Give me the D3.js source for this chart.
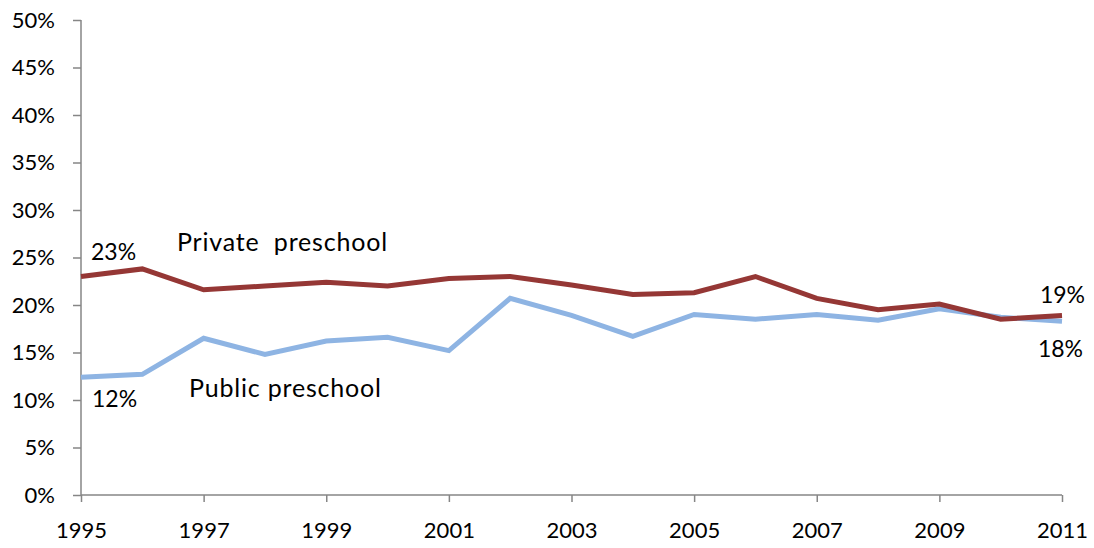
<!DOCTYPE html>
<html>
<head>
<meta charset="utf-8">
<script src="https://cdn.jsdelivr.net/npm/d3@7"></script>
<style>
  body { margin: 0; background: #fff; }
  text { font-family: Lato, "Open Sans", sans-serif; fill: #000; }
</style>
</head>
<body>
<script>
var years = d3.range(1995, 2012)
var privateVals = [23.0, 23.8, 21.6, 22.0, 22.4, 22.0, 22.8, 23.0, 22.1, 21.1, 21.3, 23.0, 20.7, 19.5, 20.1, 18.5, 18.9]
var publicVals = [12.4, 12.7, 16.5, 14.8, 16.2, 16.6, 15.2, 20.7, 18.9, 16.7, 19.0, 18.5, 19.0, 18.4, 19.6, 18.7, 18.3]
var yTicks = [0, 5, 10, 15, 20, 25, 30, 35, 40, 45, 50]
var xTicks = [1995, 1997, 1999, 2001, 2003, 2005, 2007, 2009, 2011]

var svg = d3.select("body").append("svg")
    .attr("width", 1094)
    .attr("height", 548)

var x = d3.scaleLinear().domain([1995, 2011]).range([81, 1062])
var y = d3.scaleLinear().domain([0, 50]).range([495, 20])

// axes
var yAxis = svg.append("g")
    .attr("transform", "translate(81,0)")
    .call(d3.axisLeft(y).tickValues(yTicks).tickSize(8).tickPadding(18).tickFormat(function(d) { return d + "%" }))
var xAxis = svg.append("g")
    .attr("transform", "translate(0,495)")
    .call(d3.axisBottom(x).tickValues(xTicks).tickSize(7).tickPadding(20).tickFormat(d3.format("d")))

svg.selectAll(".domain, .tick line").attr("stroke", "#868686").attr("stroke-width", 1.5)
svg.selectAll(".tick text").style("font-size", "22px").style("font-family", "Lato, 'Open Sans', sans-serif")
yAxis.selectAll(".domain").attr("d", "M0,495V20")
xAxis.selectAll(".domain").attr("d", "M81,0H1062")

var line = d3.line()
    .x(function(d, i) { return x(years[i]) })
    .y(function(d) { return y(d) })

svg.append("path")
    .datum(publicVals)
    .attr("fill", "none")
    .attr("stroke", "#8EB4E3")
    .attr("stroke-width", 5)
    .attr("d", line)

svg.append("path")
    .datum(privateVals)
    .attr("fill", "none")
    .attr("stroke", "#953735")
    .attr("stroke-width", 5)
    .attr("d", line)

// labels
function label(txt, px, py, anchor, size, spacing) {
    svg.append("text")
        .attr("x", px)
        .attr("y", py)
        .attr("text-anchor", anchor || "start")
        .style("font-size", (size || 23) + "px")
        .style("letter-spacing", (spacing || 0) + "px")
        .style("white-space", "pre")
        .text(txt)
}
label("23%", x(1995) + 10, y(privateVals[0]) - 17)
label("Private  preschool", 177, 251, "start", 25, 0.8)
label("Public preschool", 189, 397, "start", 25, 0.8)
label("12%", x(1995) + 11, y(publicVals[0]) + 30)
label("19%", x(2011) + 23, y(privateVals[16]) - 12, "end")
label("18%", x(2011) + 21, y(publicVals[16]) + 36, "end")
</script>
</body>
</html>
